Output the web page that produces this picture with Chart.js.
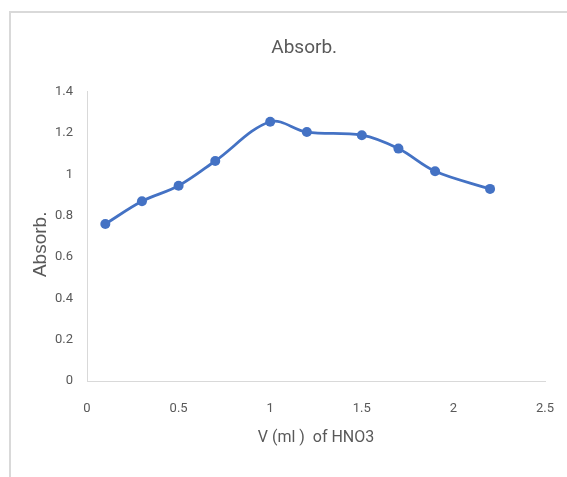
<!DOCTYPE html>
<html>
<head>
<meta charset="utf-8">
<title>Absorb.</title>
<script src="https://cdn.jsdelivr.net/npm/chart.js@4/dist/chart.umd.min.js"></script>
<style>
  html, body { margin: 0; padding: 0; background: #ffffff; }
  #wrap { position: relative; width: 567px; height: 477px; overflow: hidden; }
  #frame {
    position: absolute; left: 9px; top: 11px; width: 600px; height: 520px;
    border-top: 2px solid #d9d9d9; border-left: 2px solid #d9d9d9;
    box-sizing: border-box;
  }
  #c { position: absolute; left: 0; top: 0; }
</style>
</head>
<body>
<div id="wrap">
  <div id="frame"></div>
  <canvas id="c" width="567" height="477"></canvas>
</div>
<script>
// Volume of HNO3 added (ml) and the measured absorbance
const volumes = [0.1, 0.3, 0.5, 0.7, 1.0, 1.2, 1.5, 1.7, 1.9, 2.2];
const absorbance = [0.76, 0.87, 0.945, 1.065, 1.255, 1.205, 1.19, 1.125, 1.015, 0.93];

const xTicks = [0, 0.5, 1, 1.5, 2, 2.5];
const yTicks = [0, 0.2, 0.4, 0.6, 0.8, 1, 1.2, 1.4];

const chartTitle = 'Absorb.';
const xTitle = 'V (ml )  of HNO3';
const yTitle = 'Absorb.';

const labelFont = "Roboto, 'Open Sans', sans-serif";
const grey = '#595959';
const blue = '#4472C4';
const axisGrey = '#d9d9d9';

const points = volumes.map((v, i) => ({ x: v, y: absorbance[i] }));

new Chart(document.getElementById('c'), {
  type: 'scatter',
  data: {
    datasets: [{
      label: yTitle,
      data: points,
      showLine: true,
      tension: 0.35,
      borderColor: blue,
      borderWidth: 2.8,
      pointRadius: 5,
      pointBackgroundColor: blue,
      pointBorderColor: blue,
      pointBorderWidth: 0
    }]
  },
  options: {
    responsive: false,
    animation: false,
    layout: { padding: { left: 0, right: 22, top: 0, bottom: 0 } },
    plugins: {
      legend: { display: false },
      tooltip: { enabled: false },
      title: {
        display: true,
        fullSize: false,
        // trailing no-break spaces nudge the centred heading slightly left
        text: chartTitle + '\u00a0\u00a0\u00a0\u00a0\u00a0',
        color: grey,
        font: { family: labelFont, size: 19, weight: 'normal' },
        padding: { top: 37, bottom: 32 }
      }
    },
    scales: {
      x: {
        type: 'linear',
        min: 0,
        max: 2.5,
        afterBuildTicks: s => { s.ticks = xTicks.map(v => ({ value: v })); },
        afterFit: s => { s.height = 96; },
        // no tick marks are drawn; tickLength only spaces the labels from the axis
        grid: { display: false, drawTicks: true, tickLength: 17 },
        border: { display: true, color: axisGrey, width: 1 },
        ticks: {
          color: grey,
          padding: 3,
          maxRotation: 0,
          font: { family: labelFont, size: 13 },
          callback: v => String(v)
        },
        title: {
          display: true,
          text: xTitle,
          color: grey,
          font: { family: labelFont, size: 16 },
          padding: { top: 0, bottom: 29 }
        }
      },
      y: {
        type: 'linear',
        min: 0,
        max: 1.4,
        afterBuildTicks: s => { s.ticks = yTicks.map(v => ({ value: v })); },
        afterFit: s => { s.width = 87; },
        grid: { display: false, drawTicks: false },
        border: { display: true, color: axisGrey, width: 1 },
        ticks: {
          color: grey,
          padding: 14,
          font: { family: labelFont, size: 13 },
          callback: v => String(v)
        },
        title: {
          display: true,
          // trailing no-break spaces lower the rotated label a little
          text: yTitle + '\u00a0\u00a0\u00a0',
          color: grey,
          font: { family: "'Liberation Sans', Arial, sans-serif", size: 19 },
          padding: { top: 29, bottom: 0 }
        }
      }
    }
  }
});
</script>
</body>
</html>
